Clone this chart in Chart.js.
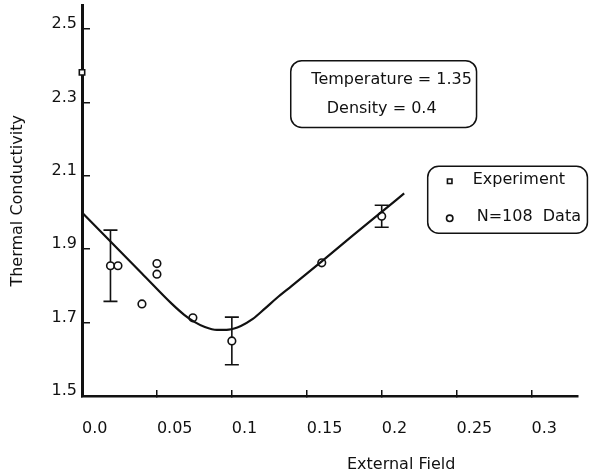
<!DOCTYPE html>
<html>
<head>
<meta charset="utf-8">
<script src="https://cdn.jsdelivr.net/npm/chart.js@4.4.1/dist/chart.umd.min.js"></script>
<style>
  html, body { margin: 0; padding: 0; background: #fff; }
  canvas { display: block; }
</style>
</head>
<body>
<canvas id="chart" width="590" height="475"></canvas>
<script>
// N=108 simulation results: thermal conductivity against external field
const fieldSim = [0.019, 0.024, 0.040, 0.050, 0.050, 0.074, 0.100, 0.160, 0.200];
const kappaSim = [1.855, 1.855, 1.751, 1.861, 1.832, 1.713, 1.650, 1.863, 1.990];
const kappaErr = [0.097, 0, 0, 0, 0, 0, 0.065, 0, 0.030];

// Experimental zero-field value
const fieldExp = [0.0];
const kappaExp = [2.382];

// Fitted curve through the simulation results
const fieldFit = [0.000, 0.020, 0.040, 0.060, 0.068, 0.075, 0.082, 0.090, 0.098, 0.106, 0.114, 0.122, 0.130, 0.140, 0.160, 0.180, 0.200, 0.215];
const kappaFit = [2.000, 1.917, 1.834, 1.751, 1.722, 1.702, 1.688, 1.680, 1.681, 1.691, 1.710, 1.738, 1.767, 1.800, 1.867, 1.935, 2.002, 2.052];

// Axis ticks
const xTickValues = [0, 0.05, 0.1, 0.15, 0.2, 0.25, 0.3];
const xTickLabels = ['0.0', '0.05', '0.1', '0.15', '0.2', '0.25', '0.3'];
const yTickValues = [1.5, 1.7, 1.9, 2.1, 2.3, 2.5];
const yTickLabels = ['1.5', '1.7', '1.9', '2.1', '2.3', '2.5'];

// Text
const infoLines = ['Temperature = 1.35', 'Density = 0.4'];
const legendLabels = ['Experiment', 'N=108  Data'];
const xTitle = 'External Field';
const yTitle = 'Thermal Conductivity';

const INK = '#111';
const FONT = "'DejaVu Sans', 'Liberation Sans', sans-serif";

Chart.defaults.font.family = FONT;
Chart.defaults.font.size = 16;
Chart.defaults.color = INK;

const toPoints = (xs, ys) => xs.map((x, i) => ({ x: x, y: ys[i] }));

// Vertical error bars with caps, drawn beneath the markers
const errorBars = {
  id: 'errorBars',
  beforeDatasetsDraw(chart) {
    const { ctx, scales: { x, y } } = chart;
    const cap = 7;
    ctx.save();
    ctx.strokeStyle = INK;
    ctx.lineWidth = 1.6;
    fieldSim.forEach((f, i) => {
      const e = kappaErr[i];
      if (!e) return;
      const px = x.getPixelForValue(f);
      const top = y.getPixelForValue(kappaSim[i] + e);
      const bot = y.getPixelForValue(kappaSim[i] - e);
      ctx.beginPath();
      ctx.moveTo(px, top); ctx.lineTo(px, bot);
      ctx.moveTo(px - cap, top); ctx.lineTo(px + cap, top);
      ctx.moveTo(px - cap, bot); ctx.lineTo(px + cap, bot);
      ctx.stroke();
    });
    ctx.restore();
  }
};

// Parameter box, legend box and the x-axis title
const annotations = {
  id: 'annotations',
  afterDraw(chart) {
    const { ctx, scales: { x, y } } = chart;
    ctx.save();
    ctx.strokeStyle = INK;
    ctx.lineWidth = 1.5;
    ctx.font = '16px ' + FONT;
    ctx.textBaseline = 'middle';

    // parameter box
    const bx1 = x.getPixelForValue(0.1393), bx2 = x.getPixelForValue(0.2633);
    const by1 = y.getPixelForValue(2.414), by2 = y.getPixelForValue(2.232);
    ctx.beginPath();
    ctx.roundRect(bx1, by1, bx2 - bx1, by2 - by1, 11);
    ctx.stroke();
    ctx.fillStyle = INK;
    ctx.textAlign = 'center';
    const cx = (bx1 + bx2) / 2;
    ctx.fillText(infoLines[0], cx + 8, by1 + 19);
    ctx.fillText(infoLines[1], cx - 2, by1 + 48);

    // legend box
    const lx1 = x.getPixelForValue(0.2307), lx2 = x.getPixelForValue(0.3373);
    const ly1 = y.getPixelForValue(2.126), ly2 = y.getPixelForValue(1.9435);
    ctx.beginPath();
    ctx.roundRect(lx1, ly1, lx2 - lx1, ly2 - ly1, 11);
    ctx.stroke();
    const mx = lx1 + 22;
    const rows = [ly1 + 14, ly1 + 51];
    const styles = ['rect', 'circle'];
    ctx.textAlign = 'left';
    rows.forEach((ry, i) => {
      ctx.fillStyle = '#fff';
      ctx.strokeStyle = INK;
      ctx.lineWidth = 1.6;
      Chart.helpers.drawPoint(ctx, {
        pointStyle: styles[i], radius: 3.2, borderWidth: 1.6, rotation: 0
      }, mx, ry + 1);
      ctx.fillStyle = INK;
      ctx.fillText(legendLabels[i], lx1 + (i ? 49 : 45), ry);
    });

    // x-axis title
    ctx.fillStyle = INK;
    ctx.textAlign = 'center';
    ctx.fillText(xTitle, x.getPixelForValue(0.213), 465);
    ctx.restore();
  }
};

new Chart(document.getElementById('chart'), {
  type: 'scatter',
  data: {
    datasets: [
      {
        type: 'line',
        label: 'fit',
        data: toPoints(fieldFit, kappaFit),
        borderColor: INK,
        borderWidth: 2.2,
        pointRadius: 0,
        fill: false,
        cubicInterpolationMode: 'monotone',
        order: 0,
        clip: false
      },
      {
        label: legendLabels[1],
        data: toPoints(fieldSim, kappaSim),
        pointStyle: 'circle',
        pointRadius: 3.8,
        borderWidth: 1.6,
        borderColor: INK,
        backgroundColor: '#fff',
        order: 1,
        clip: false
      },
      {
        label: legendLabels[0],
        data: toPoints(fieldExp, kappaExp),
        pointStyle: 'rect',
        pointRadius: 3.8,
        borderWidth: 1.6,
        borderColor: INK,
        backgroundColor: '#fff',
        order: 2,
        clip: false
      }
    ]
  },
  options: {
    responsive: false,
    animation: false,
    devicePixelRatio: 1,
    layout: { padding: { top: 5, right: 12, left: 0, bottom: 0 } },
    plugins: {
      legend: { display: false },
      tooltip: { enabled: false }
    },
    scales: {
      x: {
        type: 'linear',
        min: 0,
        max: 0.331,
        afterBuildTicks(scale) { scale.ticks = xTickValues.map(v => ({ value: v })); },
        afterFit(scale) {
          scale.height = 79;
          scale.paddingLeft = 0; scale.paddingRight = 0;
        },
        ticks: {
          callback: (v, i) => xTickLabels[i],
          align: 'start',
          padding: 29,
          maxRotation: 0,
          autoSkip: false,
          color: INK,
          font: { size: 16 }
        },
        grid: {
          drawOnChartArea: false,
          drawTicks: true,
          tickLength: -6,
          color: INK,
          lineWidth: 1.5
        },
        border: { display: true, color: INK, width: 2.5 },
        title: { display: false }
      },
      y: {
        type: 'linear',
        min: 1.5,
        max: 2.564,
        afterBuildTicks(scale) { scale.ticks = yTickValues.map(v => ({ value: v })); },
        afterFit(scale) {
          scale.width = 82;
          scale.paddingTop = 0; scale.paddingBottom = 0;
        },
        ticks: {
          callback: (v, i) => yTickLabels[i],
          padding: 13,
          labelOffset: -5,
          autoSkip: false,
          color: INK,
          font: { size: 16 }
        },
        grid: {
          drawOnChartArea: false,
          drawTicks: true,
          tickLength: -8,
          color: INK,
          lineWidth: 1.5
        },
        border: { display: true, color: INK, width: 3 },
        title: {
          display: true,
          text: yTitle,
          color: INK,
          font: { size: 16 },
          padding: { top: 8, bottom: 0 }
        }
      }
    }
  },
  plugins: [errorBars, annotations]
});
</script>
</body>
</html>
